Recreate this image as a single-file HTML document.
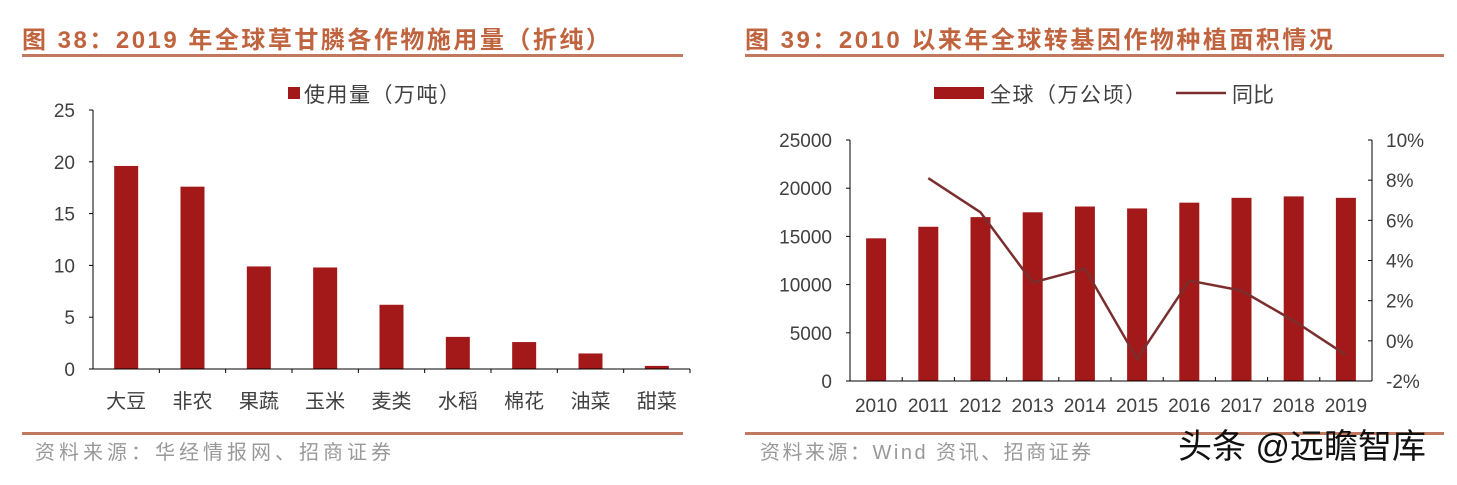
<!DOCTYPE html>
<html><head><meta charset="utf-8">
<style>
body{margin:0;width:1457px;height:480px;background:#fff;overflow:hidden;font-family:"Liberation Sans","Noto Sans CJK SC",sans-serif;}
svg text{font-family:"Liberation Sans","Noto Sans CJK SC",sans-serif;}
</style></head>
<body>
<svg id="svg" width="1457" height="480" xmlns="http://www.w3.org/2000/svg">
<text x="22" y="48" font-size="24" font-weight="bold" letter-spacing="2.5" fill="#c0643f">图 38：2019 年全球草甘膦各作物施用量（折纯）</text>
<rect x="22" y="54" width="661" height="3" fill="#c0785e"/>
<text x="745" y="48" font-size="24" font-weight="bold" letter-spacing="2.5" fill="#c0643f">图 39：2010 以来年全球转基因作物种植面积情况</text>
<rect x="745" y="54" width="699" height="3" fill="#c0785e"/>
<rect x="22" y="432" width="661" height="3" fill="#c0785e"/>
<rect x="745" y="432" width="699" height="3" fill="#c0785e"/>
<text x="35" y="459" font-size="20" letter-spacing="4" fill="#999">资料来源：华经情报网、招商证券</text>
<text x="760" y="459" font-size="20" letter-spacing="2.5" fill="#999">资料来源：Wind 资讯、招商证券</text>
<text x="1178" y="458" font-size="34" fill="#111">头条 @远瞻智库</text>
<rect x="288" y="87" width="12" height="12" fill="#a31919"/>
<text x="304" y="102" font-size="21" letter-spacing="1.5" fill="#404040">使用量（万吨）</text>
<rect x="934" y="87" width="50" height="12" fill="#a31919"/>
<text x="990" y="102" font-size="21" letter-spacing="1.5" fill="#404040">全球（万公顷）</text>
<line x1="1176" y1="93" x2="1226" y2="93" stroke="#7a2e2e" stroke-width="2.5"/>
<text x="1232" y="102" font-size="21" fill="#404040">同比</text>
<g id="left"></g>
<g id="right"></g>
</svg>
<script>
const leftCats=["大豆","非农","果蔬","玉米","麦类","水稻","棉花","油菜","甜菜"];
const leftVals=[19.6,17.6,9.9,9.8,6.2,3.1,2.6,1.5,0.3];
const leftTicks=[0,5,10,15,20,25];
const rightCats=["2010","2011","2012","2013","2014","2015","2016","2017","2018","2019"];
const rightBars=[14800,16000,17000,17500,18100,17900,18500,19000,19150,19000];
const rightLine=[null,8.1,6.4,2.9,3.6,-0.9,3.0,2.5,1.0,-0.7];
const rightTicks=[0,5000,10000,15000,20000,25000];
const pctTicks=[-2,0,2,4,6,8,10];
const NS="http://www.w3.org/2000/svg";
function mk(p,tag,attrs,txt){const e=document.createElementNS(NS,tag);for(const k in attrs)e.setAttribute(k,attrs[k]);if(txt!==undefined)e.textContent=txt;p.appendChild(e);return e;}
(function(){
const g=document.getElementById('left');
const x0=93,x1=690,y0=369,yt=110,max=25;
const y=v=>y0-(v/max)*(y0-yt);
const step=(x1-x0)/leftCats.length;
leftTicks.forEach(t=>{
const tl=mk(g,'text',{x:x0-18,y:y(t)+7,'font-size':19,fill:'#404040','text-anchor':'end'},t);


mk(g,'line',{x1:x0-4,x2:x0,y1:y(t),y2:y(t),stroke:'#000'});
});
leftCats.forEach((c,i)=>{
const cx=x0+step*(i+0.5);
const b=mk(g,'rect',{x:cx-12,y:y(leftVals[i]),width:24,height:y0-y(leftVals[i]),fill:'#a31919'});


const l=mk(g,'text',{x:cx,y:408,'font-size':20,fill:'#404040','text-anchor':'middle'},c);


mk(g,'line',{x1:x0+step*(i+1),x2:x0+step*(i+1),y1:y0,y2:y0+4,stroke:'#000'});
});
mk(g,'line',{x1:x0,x2:x0,y1:yt,y2:y0,stroke:'#000'});
mk(g,'line',{x1:x0,x2:x1,y1:y0,y2:y0,stroke:'#000'});
})();
(function(){
const g=document.getElementById('right');
const x0=850,x1=1372,y0=381,yt=140;
const y=v=>y0-(v/25000)*(y0-yt);
const yp=v=>y0-((v+2)/12)*(y0-yt);
const step=(x1-x0)/rightCats.length;
rightTicks.forEach(t=>{
const tl=mk(g,'text',{x:x0-18,y:y(t)+7,'font-size':19,fill:'#404040','text-anchor':'end'},t);


mk(g,'line',{x1:x0-4,x2:x0,y1:y(t),y2:y(t),stroke:'#000'});
});
pctTicks.forEach(t=>{
const tl=mk(g,'text',{x:x1+14,y:yp(t)+7,'font-size':19,fill:'#404040'},t+'%');


mk(g,'line',{x1:x1-4,x2:x1,y1:yp(t),y2:yp(t),stroke:'#000'});
});
rightCats.forEach((c,i)=>{
const cx=x0+step*(i+0.5);
const b=mk(g,'rect',{x:cx-10,y:y(rightBars[i]),width:20,height:y0-y(rightBars[i]),fill:'#a31919'});


const l=mk(g,'text',{x:cx,y:412,'font-size':19,fill:'#404040','text-anchor':'middle'},c);


mk(g,'line',{x1:x0+step*(i+1),x2:x0+step*(i+1),y1:y0,y2:y0-4,stroke:'#000'});
});
let pts=[];
rightLine.forEach((v,i)=>{if(v!==null)pts.push((x0+step*(i+0.5))+','+yp(v));});
const pl=mk(g,'polyline',{points:pts.join(' '),fill:'none',stroke:'#7a2e2e','stroke-width':2.5});


mk(g,'line',{x1:x0,x2:x0,y1:yt,y2:y0,stroke:'#000'});
mk(g,'line',{x1:x1,x2:x1,y1:yt,y2:y0,stroke:'#000'});
mk(g,'line',{x1:x0,x2:x1,y1:y0,y2:y0,stroke:'#000'});
})();
</script>
</body></html>
